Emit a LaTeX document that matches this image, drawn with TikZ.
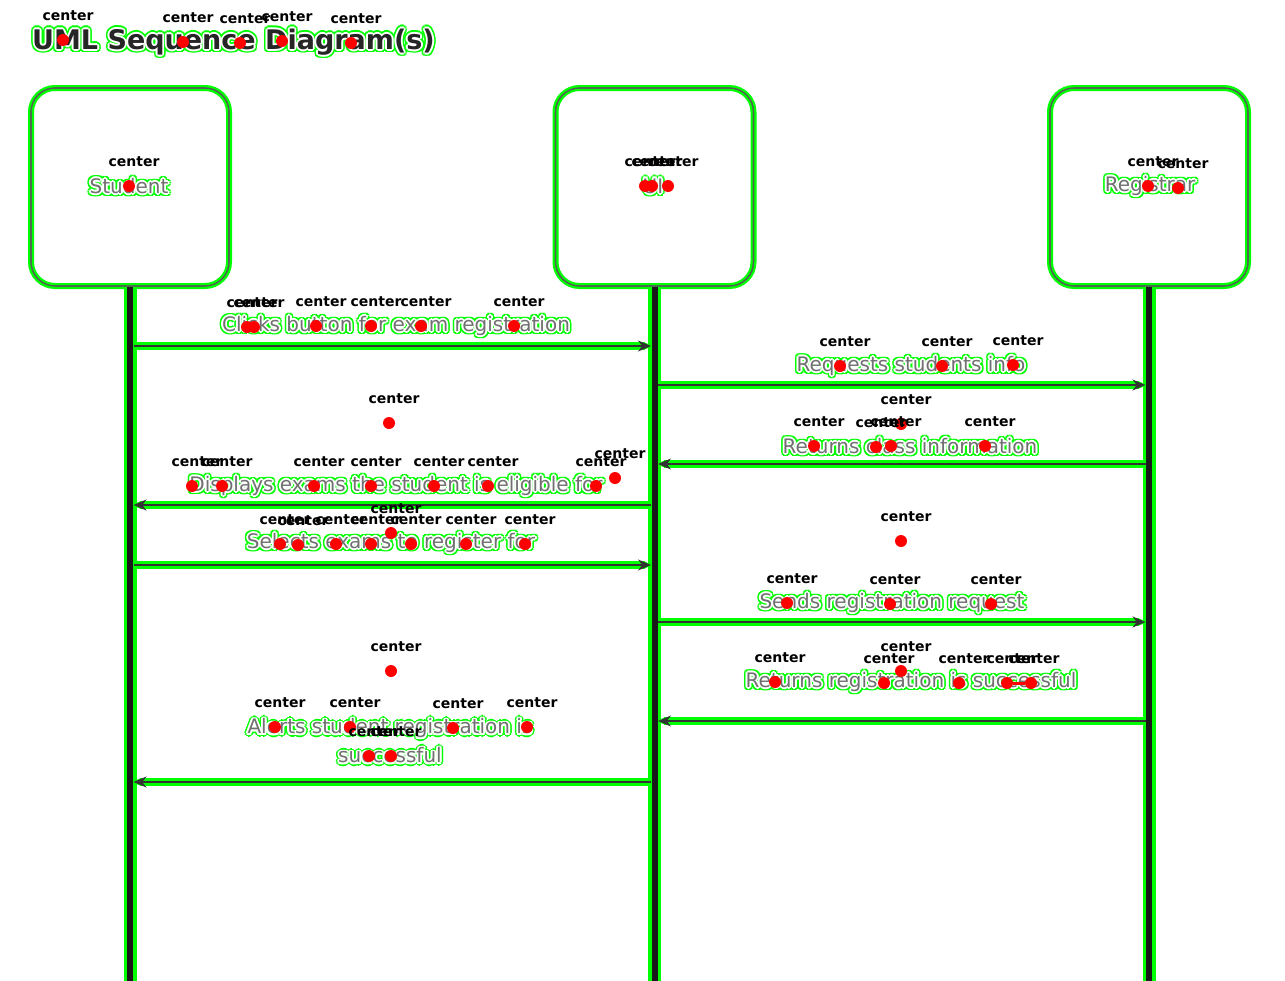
\documentclass[tikz,border=0pt]{standalone}
\usepackage{fontspec}
\setmainfont{DejaVu Sans}
\usetikzlibrary{arrows.meta,calc}

\definecolor{contourgreen}{RGB}{0,255,0}
\definecolor{msggray}{RGB}{112,112,112}
\definecolor{dotred}{RGB}{255,0,0}

% text with a green outline: green copies, white copies, then the text itself
\newcommand\halotext[4]{% #1 name, #2 position, #3 style, #4 text
  \foreach \a in {0,30,...,330}
    \node[#3, text=contourgreen] at ($(#2)+(\a:3.4)$) {#4};
  \foreach \a in {0,45,...,315}
    \node[#3, text=white] at ($(#2)+(\a:1.9)$) {#4};
  \node[#3] (#1) at (#2) {#4};
}

\begin{document}
\begin{tikzpicture}[x=1pt,y=-1pt,
  boxglow/.style={draw=contourgreen, line width=6pt, rounded corners=24pt,
    minimum width=198pt, minimum height=198pt, inner sep=0pt},
  actorbox/.style={draw=black!65, line width=1.1pt, rounded corners=24pt,
    minimum width=198pt, minimum height=198pt, inner sep=0pt},
  lifeglow/.style={draw=contourgreen, line width=13pt},
  lifeline/.style={draw=black!90, line width=6pt},
  msgglow/.style={draw=contourgreen, line width=8pt, line join=round,
    -{Stealth[length=13pt,width=11pt,round]}, shorten <=3.5pt, shorten >=3.5pt},
  msgline/.style={draw=black!80, line width=1.6pt,
    -{Stealth[length=13pt,width=11pt]}, shorten <=3.5pt, shorten >=3.5pt},
  msgtext/.style={text=msggray, font=\fontsize{20}{29}\selectfont,
    inner sep=0pt, align=center},
  titletext/.style={text=black!85, font=\fontsize{27}{32}\selectfont\bfseries,
    inner sep=0pt},
  ctrdot/.style={circle, fill=dotred, minimum size=12pt, inner sep=0pt},
  ctrlabel/.style={text=black, font=\fontsize{14}{16}\selectfont\bfseries,
    inner sep=0pt}
]
\useasboundingbox (0,0) rectangle (1285,980);
\fill[white] (0,0) rectangle (1285,980);

\coordinate (bottom) at (0,990);

% actor boxes (outline layer)
\foreach \n/\x in {student/130,ui/654.5,registrar/1149}
  \node[boxglow] (\n glow) at (\x,187) {};
\foreach \n/\x in {student/130,ui/654.5,registrar/1149}
  \node[actorbox] (\n) at (\x,187) {};

% lifeline casing
\foreach \n in {student,ui,registrar}
  \draw[lifeglow] (\n.south) -- (\n.south |- bottom);

% message casing
\foreach \from/\to/\y [count=\i] in {student/ui/346, ui/registrar/385,
    registrar/ui/464, ui/student/505, student/ui/565, ui/registrar/622,
    registrar/ui/721, ui/student/782} {
  \coordinate (m\i) at (0,\y);
  \draw[msgglow] (\from.south |- m\i) -- (\to.south |- m\i);
}

% boxes drawn again on top of the casing
\foreach \n/\x in {student/130,ui/654.5,registrar/1149}
  \node[actorbox] (\n top) at (\x,187) {};

% lifelines
\foreach \n in {student,ui,registrar}
  \draw[lifeline] (\n.south) -- (\n.south |- bottom);

% messages
\draw[msgline] (student.south |- m1) -- (ui.south |- m1);
\draw[msgline] (ui.south |- m2) -- (registrar.south |- m2);
\draw[msgline] (registrar.south |- m3) -- (ui.south |- m3);
\draw[msgline] (ui.south |- m4) -- (student.south |- m4);
\draw[msgline] (student.south |- m5) -- (ui.south |- m5);
\draw[msgline] (ui.south |- m6) -- (registrar.south |- m6);
\draw[msgline] (registrar.south |- m7) -- (ui.south |- m7);
\draw[msgline] (ui.south |- m8) -- (student.south |- m8);

% title and labels
\halotext{title}{233.5,42}{titletext}{UML Sequence Diagram(s)}
\halotext{lstudent}{129,186}{msgtext}{Student}
\halotext{lui}{653,186}{msgtext}{UI}
\halotext{lregistrar}{1150,186}{msgtext}{Registrar}

\halotext{t1}{396,326}{msgtext}{Clicks button for exam registration}
\halotext{t2}{911,366}{msgtext}{Requests students info}
\halotext{t3}{910,446}{msgtext}{Returns class information}
\halotext{t4}{396,486}{msgtext}{Displays exams the student is eligible for}
\halotext{t5}{391,543}{msgtext}{Selects exams to register for}
\halotext{t6}{892,603}{msgtext}{Sends registration request}
\halotext{t7}{911,682}{msgtext}{Returns registration is successful}
\halotext{t8}{390,741}{msgtext}{Alerts student registration is\\successful}

% centre markers
\foreach \x/\y [count=\i] in {
    63/40, 183/42, 240/43, 282/41, 351/43,
    129/186, 645/186, 652/186, 668/186, 1148/186, 1178/188,
    247/327, 254/327, 316/326, 371/326, 421/326, 514/326,
    389/423,
    840/366, 942/366, 1013/365,
    901/424,
    814/446, 876/447, 891/446, 985/446,
    192/486, 222/486, 314/486, 371/486, 434/486, 488/486, 596/486, 615/478,
    391/533,
    280/544, 298/545, 336/544, 371/544, 411/544, 466/544, 525/544,
    901/541,
    787/603, 890/604, 991/604,
    391/671, 901/671,
    775/682, 884/683, 959/683,
    275/727, 350/727, 453/728, 527/727, 369/756, 391/756} {
  \node[ctrdot] (d\i) at (\x,\y) {};
  \node[ctrlabel] (c\i) at (\x+5,\y-24) {center};
}
\node[ctrdot] (dA) at (1007,683) {};
\node[ctrlabel] (cA) at (1012,659) {center};
\node[ctrdot] (dB) at (1031,683) {};
\node[ctrlabel] (cB) at (1034,659) {center};
\draw[dotred, line width=3pt] (dA) -- (dB);
\end{tikzpicture}
\end{document}
